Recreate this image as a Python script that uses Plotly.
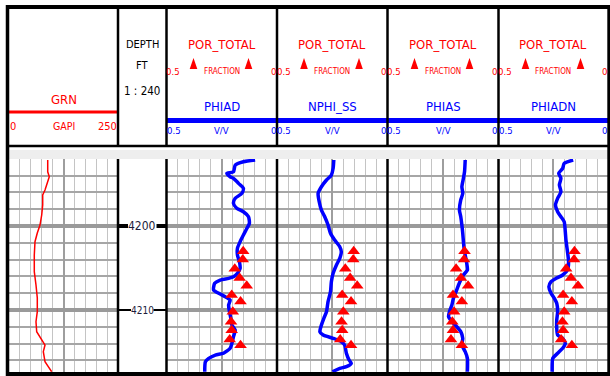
import plotly.graph_objects as go

W, H = 610, 376

# ---------------- data ----------------
grn_depth = [4192.14, 4193.54, 4194.13, 4194.73, 4195.71, 4196.31, 4197.50, 4198.69, 4199.88,
             4200.83, 4201.87, 4203.45, 4205.44, 4207.02, 4208.57, 4210.20, 4211.39, 4212.58,
             4213.18, 4213.77, 4214.17, 4214.96, 4216.15, 4216.75, 4217.35]
grn_val = [88.8, 88.8, 92.4, 88.8, 82.6, 77.3, 77.3, 75.0, 71.1,
           64.9, 59.6, 58.0, 58.0, 61.9, 64.9, 64.9, 61.9, 63.5,
           71.1, 77.3, 82.6, 78.7, 82.6, 90.1, 97.9]

phiad_depth = [4192.14, 4192.35, 4192.74, 4193.54, 4193.73, 4194.13, 4194.32, 4194.92, 4195.51,
               4196.11, 4196.70, 4197.30, 4197.89, 4198.30, 4198.89, 4199.68, 4200.27, 4201.07,
               4201.87, 4202.65, 4203.45, 4204.25, 4205.04, 4205.63, 4206.04, 4206.23, 4206.43,
               4206.82, 4207.62, 4208.01, 4208.42, 4208.81, 4209.40, 4210.20, 4210.99, 4211.79,
               4212.38, 4213.18, 4213.96, 4214.56, 4215.15, 4215.36, 4215.75, 4216.15, 4217.35]
phiad_val = [0.099, 0.152, 0.189, 0.197, 0.227, 0.212, 0.197, 0.174, 0.152,
             0.159, 0.189, 0.197, 0.182, 0.152, 0.129, 0.125, 0.136, 0.152,
             0.167, 0.179, 0.179, 0.170, 0.167, 0.179, 0.197, 0.219, 0.257,
             0.282, 0.287, 0.264, 0.234, 0.212, 0.219, 0.215, 0.209, 0.204,
             0.189, 0.197, 0.204, 0.212, 0.242, 0.279, 0.309, 0.324, 0.327]

nphi_depth = [4192.14, 4193.13, 4193.93, 4194.52, 4195.32, 4196.11, 4197.11, 4198.10, 4198.89,
              4199.88, 4200.87, 4201.67, 4202.46, 4203.06, 4203.85, 4204.64, 4205.63, 4206.63,
              4207.82, 4209.01, 4210.20, 4210.99, 4211.79, 4212.58, 4212.98, 4213.37, 4213.77,
              4214.17, 4215.15, 4215.95, 4216.35, 4216.75, 4216.94, 4217.35]
nphi_val = [0.243, 0.246, 0.254, 0.276, 0.299, 0.314, 0.309, 0.299, 0.284,
            0.269, 0.258, 0.239, 0.216, 0.209, 0.216, 0.231, 0.246, 0.254,
            0.258, 0.269, 0.276, 0.288, 0.299, 0.306, 0.291, 0.246, 0.209,
            0.194, 0.186, 0.174, 0.164, 0.186, 0.216, 0.249]

phias_depth = [4192.14, 4193.54, 4194.32, 4195.32, 4196.11, 4196.90, 4198.10, 4198.89, 4199.88,
               4200.87, 4201.87, 4202.65, 4203.45, 4204.44, 4205.24, 4205.83, 4206.43, 4207.02,
               4207.82, 4208.61, 4209.40, 4210.20, 4210.80, 4211.39, 4211.99, 4212.58, 4213.37,
               4214.17, 4214.96, 4215.75, 4217.35]
phias_val = [0.150, 0.153, 0.158, 0.165, 0.161, 0.170, 0.176, 0.170, 0.165,
             0.161, 0.158, 0.155, 0.150, 0.143, 0.140, 0.158, 0.170, 0.180,
             0.191, 0.203, 0.210, 0.221, 0.225, 0.210, 0.188, 0.170, 0.161,
             0.165, 0.150, 0.140, 0.140]

phiadn_depth = [4192.14, 4192.54, 4193.13, 4193.73, 4194.32, 4195.12, 4195.92, 4196.70, 4197.50,
                4198.30, 4198.89, 4199.49, 4200.68, 4201.67, 4203.06, 4204.25, 4205.24, 4205.83,
                4206.23, 4206.63, 4207.23, 4208.01, 4208.61, 4209.20, 4210.20, 4211.19, 4212.18,
                4212.98, 4213.37, 4213.96, 4214.56, 4215.15, 4215.75, 4217.35]
phiadn_val = [0.159, 0.200, 0.207, 0.225, 0.215, 0.222, 0.215, 0.230, 0.240,
              0.230, 0.215, 0.200, 0.195, 0.192, 0.185, 0.180, 0.185, 0.207,
              0.237, 0.260, 0.270, 0.260, 0.245, 0.234, 0.230, 0.234, 0.234,
              0.230, 0.207, 0.195, 0.207, 0.230, 0.252, 0.255]

core_depth = [4203.0, 4204.0, 4205.1, 4206.2, 4207.1, 4208.2, 4209.0, 4210.2, 4211.4, 4212.4, 4213.5, 4214.2]
core_por = [0.153, 0.155, 0.191, 0.169, 0.137, 0.205, 0.165, 0.200, 0.208, 0.205, 0.214, 0.165]

track_names = ["PHIAD", "NPHI_SS", "PHIAS", "PHIADN"]
track_curves = [(phiad_val, phiad_depth), (nphi_val, nphi_depth),
                (phias_val, phias_depth), (phiadn_val, phiadn_depth)]
depth_ticks = [4200, 4210]
depth_range = [4217.38, 4192.02]

# ---------------- geometry (pixels) ----------------
X = [9, 118, 166.5, 277, 387.5, 498.5, 608]
DATA_TOP, DATA_BOT = 159, 372
FONT = "DejaVu Sans Condensed, Liberation Sans Narrow, Arial Narrow, sans-serif"
RED, BLUE = "#ff0000", "#0000ff"


def px(x):
    return x / W


def py(y):
    return 1 - y / H


fig = go.Figure()
ydom = [py(DATA_BOT), py(DATA_TOP)]
layout = dict(width=W, height=H, margin=dict(l=0, r=0, t=0, b=0),
              paper_bgcolor="white", plot_bgcolor="white", showlegend=False)

track_axes = [(X[0], X[1], [0, 250], 125, 25)]
for i in range(4):
    track_axes.append((X[i + 2], X[i + 3], [0.5, 0], 0.25, 0.05))

for i, (x0, x1, rng, dt, mdt) in enumerate(track_axes):
    n = "" if i == 0 else str(i + 1)
    layout["xaxis" + n] = dict(domain=[px(x0), px(x1)], range=rng, anchor="y" + n,
                               tick0=0, dtick=dt, showgrid=True, gridcolor="#9e9e9e", gridwidth=1.5,
                               minor=dict(dtick=mdt, tick0=0, showgrid=True, gridcolor="#c4c4c4", gridwidth=1),
                               showticklabels=False, zeroline=False, ticks="", showline=False, fixedrange=True)
    layout["yaxis" + n] = dict(domain=ydom, range=depth_range, anchor="x" + n,
                               tick0=4200, dtick=10, showgrid=True, gridcolor="#9a9a9a", gridwidth=4,
                               minor=dict(dtick=2, showgrid=True, gridcolor="#a6a6a6", gridwidth=2),
                               showticklabels=False, zeroline=False, ticks="", showline=False, fixedrange=True)

fig.add_trace(go.Scatter(x=grn_val, y=grn_depth, mode="lines", xaxis="x", yaxis="y",
                         line=dict(color=RED, width=1.5)))
for i, (vals, deps) in enumerate(track_curves):
    n = str(i + 2)
    fig.add_trace(go.Scatter(x=vals, y=deps, mode="lines", xaxis="x" + n, yaxis="y" + n,
                             line=dict(color=BLUE, width=3.5, shape="spline", smoothing=0.6)))
    fig.add_trace(go.Scatter(x=core_por, y=core_depth, mode="markers", xaxis="x" + n, yaxis="y" + n,
                             marker=dict(symbol="triangle-up", size=11, color=RED, line=dict(width=0))))

shapes = []


def line(x0, y0, x1, y1, color="black", width=2.5):
    shapes.append(dict(type="line", xref="paper", yref="paper", x0=px(x0), y0=py(y0),
                       x1=px(x1), y1=py(y1), line=dict(color=color, width=width)))


# grey strip above the data
shapes.append(dict(type="rect", xref="paper", yref="paper", x0=px(9), x1=px(608), y0=py(159), y1=py(150),
                   fillcolor="#eeeeee", line=dict(width=0)))
# GR header red line
line(X[0], 112, X[1], 112, RED, 3)
# blue header lines
for i in range(4):
    line(X[i + 2], 120.5, X[i + 3], 120.5, BLUE, 5)
# header triangles
for i in range(4):
    left = X[i + 2]
    for off in (27, 82):
        cx, cy = left + off, 63.5
        path = "M {} {} L {} {} L {} {} Z".format(px(cx - 3.8), py(cy + 5.5), px(cx + 3.8), py(cy + 5.5),
                                                  px(cx), py(cy - 5.5))
        shapes.append(dict(type="path", xref="paper", yref="paper", path=path,
                           fillcolor=RED, line=dict(width=0)))
# dividers
for xx in X[1:-1]:
    line(xx, 7, xx, 147)
    line(xx, DATA_TOP, xx, 373)
line(6, 146, 609, 146)
# depth ticks
for d, w, ln in [(depth_ticks[0], 4, 10), (depth_ticks[1], 2, 13)]:
    for xa, xb in [(X[1], X[1] + ln), (X[2] - ln, X[2])]:
        shapes.append(dict(type="line", xref="paper", yref="y", x0=px(xa), x1=px(xb), y0=d, y1=d,
                           line=dict(color="black", width=w)))
# frame
line(7.5, 5, 7.5, 376, "black", 3.5)
line(608.8, 5, 608.8, 376, "black", 3)
line(6, 7, 610, 7, "black", 4)
line(6, 374, 610, 374, "black", 4)

annotations = []


def text(x, y, s, size, color, yref="paper"):
    annotations.append(dict(x=px(x), y=(py(y) if yref == "paper" else y), xref="paper", yref=yref,
                            text=s, showarrow=False, xanchor="center", yanchor="middle",
                            font=dict(family=FONT, size=size, color=color)))


# GR header
cx = (X[0] + X[1]) / 2
text(cx, 99, "GRN", 13, RED)
text(13, 126, "0", 11, RED)
text(cx, 126, "GAPI", 10.5, RED)
text(107, 126, "250", 11, RED)
# depth header
dc = (X[1] + X[2]) / 2
text(dc, 45, "DEPTH", 11, "black")
text(dc, 65, "FT", 11, "black")
text(dc, 91, "1 : 240", 11.5, "black")
# porosity headers
for i, name in enumerate(track_names):
    l, r = X[i + 2], X[i + 3]
    c = (l + r) / 2
    text(c, 45, "POR_TOTAL", 13, RED)
    text(c, 72, "FRACTION", 8, RED)
    text(l + 6.5, 72, "0.5", 9.5, RED)
    text(r - 4, 72, "0", 9.5, RED)
    text(c, 106, name, 13, BLUE)
    text(l + 7, 130.5, "0.5", 9.5, BLUE)
    text(c, 130.5, "V/V", 9.5, BLUE)
    text(r - 4, 130.5, "0", 9.5, BLUE)
# depth labels
text(dc, depth_ticks[0], str(depth_ticks[0]), 12, "#1c1c3c", yref="y")
text(dc, depth_ticks[1], str(depth_ticks[1]), 10, "#1c1c3c", yref="y")

layout["shapes"] = shapes
layout["annotations"] = annotations
fig.update_layout(**layout)
fig.write_html("out.html", config={"displayModeBar": False},
               post_script="document.body.style.margin='0';document.body.style.overflow='hidden';")
